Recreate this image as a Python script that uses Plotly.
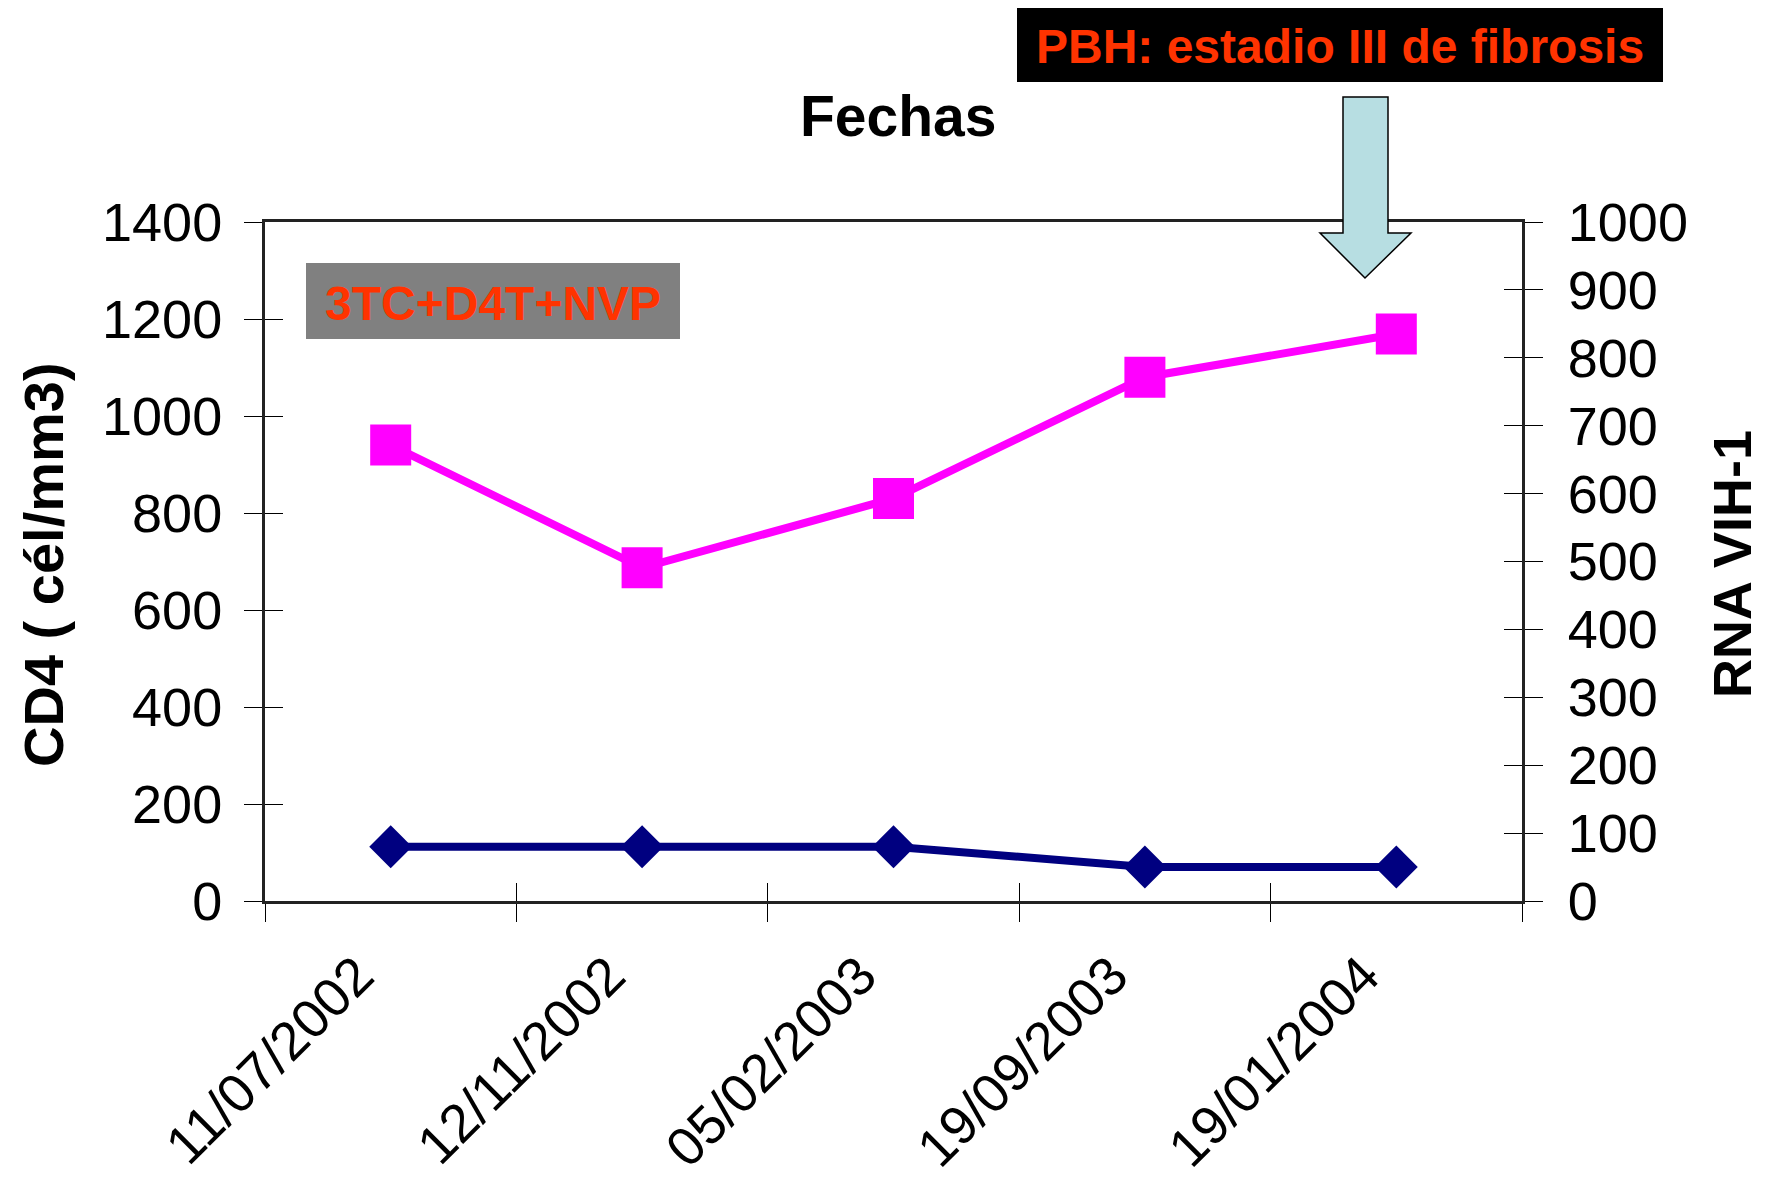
import plotly.graph_objects as go

# ---- data ----
fechas = ["11/07/2002", "12/11/2002", "05/02/2003", "19/09/2003", "19/01/2004"]
cd4 = [940, 687, 830, 1080, 1169]          # CD4 (cél/mm3) - left axis
rna = [80, 80, 80, 50, 50]                 # RNA VIH-1 - right axis
cd4_ticks = [0, 200, 400, 600, 800, 1000, 1200, 1400]
rna_ticks = [0, 100, 200, 300, 400, 500, 600, 700, 800, 900, 1000]

# page body has an 8px margin: size the figure so it fits the 1765x1180 window
OFF = 8
W, H = 1765 - OFF, 1180 - OFF
# plot area in screenshot pixels
L, R, T, B = 265, 1522, 222, 901


def px(x):
    return (x - L) / (R - L)


def py(y):
    return (B - y) / (B - T)


FONT = "Liberation Sans, Arial, sans-serif"
AX = "#222222"

fig = go.Figure()
fig.add_trace(go.Scatter(
    x=fechas, y=cd4, mode="lines+markers", name="CD4",
    line=dict(color="#FF00FF", width=8),
    marker=dict(symbol="square", size=41, color="#FF00FF"),
    xaxis="x", yaxis="y", showlegend=False))
fig.add_trace(go.Scatter(
    x=fechas, y=rna, mode="lines+markers", name="RNA VIH-1",
    line=dict(color="#000080", width=8),
    marker=dict(symbol="diamond", size=33, color="#000080"),
    xaxis="x", yaxis="y2", showlegend=False))
# invisible helper traces so the inside-tick overlay axes get drawn
fig.add_trace(go.Scatter(x=fechas, y=[None] * len(fechas), mode="lines",
                         xaxis="x2", yaxis="y3", showlegend=False, hoverinfo="skip"))
fig.add_trace(go.Scatter(x=fechas, y=[None] * len(fechas), mode="lines",
                         xaxis="x", yaxis="y4", showlegend=False, hoverinfo="skip"))

tickcommon = dict(tickcolor="black", tickwidth=1, ticklen=18, automargin=False)

fig.update_layout(
    width=W, height=H,
    margin=dict(l=L - OFF, r=W + OFF - R, t=T - OFF, b=H + OFF - B, pad=0),
    paper_bgcolor="white", plot_bgcolor="white",
    font=dict(family=FONT, color="black", size=53),
    xaxis=dict(
        type="category", categoryorder="array", categoryarray=fechas,
        range=[-0.5, len(fechas) - 0.5], tickson="boundaries",
        ticks="outside", **tickcommon,
        showline=True, linecolor=AX, linewidth=3, mirror=True,
        showgrid=False, zeroline=False,
        tickangle=-45, tickfont=dict(size=54, family=FONT, color="black"),
        ticklabelstandoff=18, ticklabelshift=-33),
    xaxis2=dict(
        type="category", categoryorder="array", categoryarray=fechas,
        range=[-0.5, len(fechas) - 0.5], tickson="boundaries",
        overlaying="x", anchor="y", side="bottom",
        ticks="inside", **tickcommon, showticklabels=False,
        showline=False, showgrid=False, zeroline=False),
    yaxis=dict(
        range=[0, 1400], tickvals=cd4_ticks, ticks="outside", **tickcommon,
        showline=True, linecolor=AX, linewidth=3, mirror=False,
        showgrid=False, zeroline=False,
        tickfont=dict(size=54, family=FONT, color="black"),
        ticklabelstandoff=11),
    yaxis2=dict(
        range=[0, 1000], tickvals=rna_ticks, overlaying="y", side="right",
        anchor="x", ticks="outside", **tickcommon,
        showline=True, linecolor=AX, linewidth=3,
        showgrid=False, zeroline=False,
        tickfont=dict(size=54, family=FONT, color="black"),
        ticklabelstandoff=14),
    yaxis3=dict(
        range=[0, 1400], tickvals=cd4_ticks, overlaying="y", side="left",
        anchor="x2", ticks="inside", **tickcommon, showticklabels=False,
        showline=False, showgrid=False, zeroline=False),
    yaxis4=dict(
        range=[0, 1000], tickvals=rna_ticks, overlaying="y", side="right",
        anchor="x", ticks="inside", **tickcommon, showticklabels=False,
        showline=False, showgrid=False, zeroline=False),
)

shapes = [
    # treatment box
    dict(type="rect", xref="paper", yref="paper",
         x0=px(306), x1=px(680), y0=py(339), y1=py(263),
         fillcolor="#808080", line=dict(width=0), layer="above"),
    # PBH box
    dict(type="rect", xref="paper", yref="paper",
         x0=px(1017), x1=px(1663), y0=py(82), y1=py(7),
         fillcolor="black", line=dict(width=0), layer="above"),
    # down arrow
    dict(type="path", xref="paper", yref="paper", layer="above",
         path=(f"M {px(1343)} {py(97)} L {px(1388)} {py(97)} L {px(1388)} {py(233)} "
               f"L {px(1411)} {py(233)} L {px(1365)} {py(278)} L {px(1320)} {py(233)} "
               f"L {px(1343)} {py(233)} Z"),
         fillcolor="#B7DEE2", line=dict(color="black", width=1.5)),
]

annotations = [
    dict(text="Fechas", xref="paper", yref="paper", x=px(898), y=py(116),
         xanchor="center", yanchor="middle", showarrow=False,
         font=dict(size=57, family=FONT, color="black", weight="bold")),
    dict(text="CD4 ( cél/mm3)", xref="paper", yref="paper", x=px(43), y=py(565),
         xanchor="center", yanchor="middle", showarrow=False, textangle=-90,
         font=dict(size=56, family=FONT, color="black", weight="bold")),
    dict(text="RNA VIH-1", xref="paper", yref="paper", x=px(1764), y=py(564),
         xanchor="right", yanchor="middle", showarrow=False, textangle=-90,
         font=dict(size=54, family=FONT, color="black", weight="bold")),
    dict(text="3TC+D4T+NVP", xref="paper", yref="paper", x=px(493), y=py(303),
         xanchor="center", yanchor="middle", showarrow=False,
         font=dict(size=48, family=FONT, color="#FF3300", weight="bold")),
    dict(text="PBH: estadio III de fibrosis", xref="paper", yref="paper",
         x=px(1340), y=py(46), xanchor="center", yanchor="middle", showarrow=False,
         font=dict(size=48, family=FONT, color="#FF3300", weight="bold")),
]

fig.update_layout(shapes=shapes, annotations=annotations)
fig.write_html("out.html")
